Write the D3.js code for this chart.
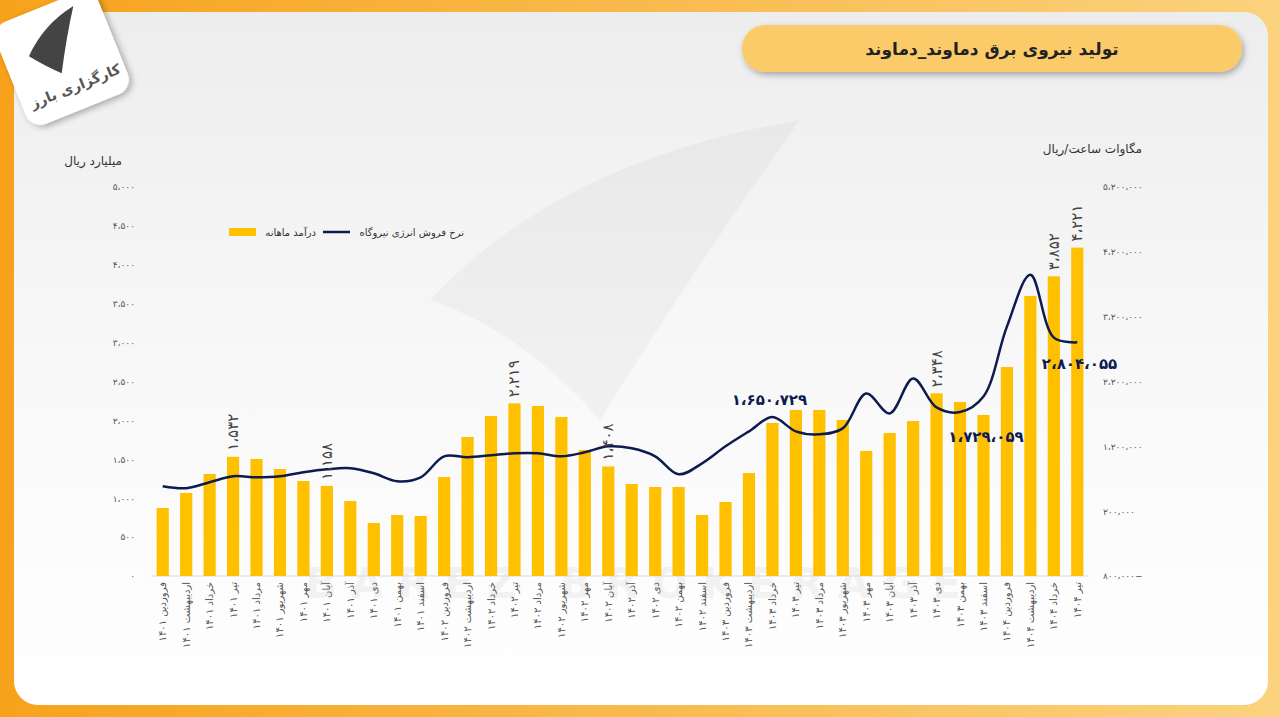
<!DOCTYPE html>
<html><head><meta charset="utf-8">
<script src="https://cdn.jsdelivr.net/npm/d3@7"></script>
<style>html,body{margin:0;padding:0;width:1280px;height:717px;overflow:hidden;font-family:"DejaVu Sans",sans-serif;}</style>
</head><body><svg id="c" width="1280" height="717"></svg>
<script>
const months=["فروردین","اردیبهشت","خرداد","تیر","مرداد","شهریور","مهر","آبان","آذر","دی","بهمن","اسفند"];
const years=["1401","1402","1403","1404"];
const categories=[];
years.forEach(y=>months.forEach(m=>{if(categories.length<40)categories.push(m+" "+y);}));
const revenue=[874,1067,1311,1532,1504,1375,1221,1158,964,681,784,771,1272,1787,2057,2219,2185,2044,1620,1408,1183,1144,1144,784,951,1324,1967,2134,2134,2005,1607,1838,1992,2348,2237,2070,2686,3599,3852,4221];
const rate=[585000,554000,646000,738000,723000,738000,800000,846000,862000,785000,662000,723000,1046000,1031000,1062000,1092000,1092000,1046000,1108000,1200000,1169000,1046000,769000,938000,1200000,1431000,1650729,1431000,1385000,1477000,2015000,1708000,2246000,1800000,1729059,1969000,3046000,3846000,2877000,2804055];
const leftTicks=[0,500,1000,1500,2000,2500,3000,3500,4000,4500,5000];
const rightTicks=[-800000,200000,1200000,2200000,3200000,4200000,5200000];
const barLabelIdx=[3,7,15,19,33,38,39];
const lineLabels=[{i:26,dx:-3,dy:-12,anchor:"middle"},{i:34,dx:26,dy:30,anchor:"middle"},{i:39,dx:40,dy:27,anchor:"end"}];

const fa=s=>String(s).replace(/\d/g,d=>"۰۱۲۳۴۵۶۷۸۹"[d]);
const fmt=v=>{const s=fa(d3.format(",")(Math.abs(v))).replace(/,/g,"،");return v<0?s+"−":s;};

const svg=d3.select("#c");
const defs=svg.append("defs");
const g1=defs.append("linearGradient").attr("id","bg").attr("x1",0).attr("x2",1).attr("y1",0).attr("y2",0);
g1.append("stop").attr("offset",0).attr("stop-color","#F7A21B");
g1.append("stop").attr("offset",1).attr("stop-color","#FBD27E");
const g2=defs.append("linearGradient").attr("id","card").attr("x1",0).attr("x2",0).attr("y1",0).attr("y2",1);
g2.append("stop").attr("offset",0).attr("stop-color","#EDEDED");
g2.append("stop").attr("offset",0.5).attr("stop-color","#F8F8F8");
g2.append("stop").attr("offset",1).attr("stop-color","#FFFFFF");
const sh=defs.append("filter").attr("id","sh").attr("x","-20%").attr("y","-20%").attr("width","140%").attr("height","140%");
sh.append("feDropShadow").attr("dx",2).attr("dy",3).attr("stdDeviation",3).attr("flood-opacity",0.3);

svg.append("rect").attr("width",1280).attr("height",717).attr("fill","url(#bg)");
svg.append("rect").attr("x",14).attr("y",12).attr("width",1254).attr("height",693).attr("rx",24).attr("fill","url(#card)");
svg.append("rect").attr("x",742).attr("y",25).attr("width",500).attr("height",47).attr("rx",23).attr("fill","#FBCB6B").attr("filter","url(#sh)");
svg.append("text").attr("x",992).attr("y",55).attr("text-anchor","middle").attr("font-size",17).attr("font-weight","bold").attr("fill","#222").attr("direction","rtl").text("تولید نیروی برق دماوند_دماوند");
const lg=svg.append("g").attr("transform","translate(62,58) rotate(-22)");
lg.append("rect").attr("x",-55).attr("y",-55).attr("width",110).attr("height",110).attr("rx",16).attr("fill","#fff").attr("filter","url(#sh)");
lg.append("path").attr("d","M-30,-14 Q-5,-38 30,-44 Q12,-18 -6,14 Q-18,2 -30,-14Z").attr("fill","#444");
lg.append("text").attr("x",2).attr("y",36).attr("text-anchor","middle").attr("font-size",14).attr("font-weight","bold").attr("fill","#555").attr("direction","rtl").text("کارگزاری بارز");

// faint watermark shape
svg.append("path").attr("d","M430,300 Q560,160 800,120 Q700,260 600,420 Q520,330 430,300Z").attr("fill","#000").attr("opacity",0.03);
svg.append("text").attr("x",640).attr("y",598).attr("text-anchor","middle").attr("font-size",42).attr("letter-spacing",14).attr("font-weight","bold").attr("fill","#000").attr("opacity",0.04).text("BAREZ BROKERAGE");

const x=d3.scaleBand().domain(categories).range([151,1089]).paddingInner(0.48).paddingOuter(0.24);
const yl=d3.scaleLinear().domain([0,5000]).range([576,187]);
const yr=d3.scaleLinear().domain([-800000,5200000]).range([576,187]);

const la=svg.append("g").attr("transform","translate(138,0)").call(d3.axisLeft(yl).tickValues(leftTicks).tickSize(0).tickFormat(fmt));
la.select(".domain").remove();
la.selectAll("text").attr("font-size",9).attr("fill","#555").attr("font-family","DejaVu Sans");
const ra=svg.append("g").attr("transform","translate(1100,0)").call(d3.axisRight(yr).tickValues(rightTicks).tickSize(0).tickFormat(fmt));
ra.select(".domain").remove();
ra.selectAll("text").attr("font-size",9).attr("fill","#555").attr("font-family","DejaVu Sans");
svg.append("text").attr("x",122).attr("y",165).attr("text-anchor","start").attr("font-size",12).attr("fill","#333").attr("direction","rtl").text("میلیارد ریال");
svg.append("text").attr("x",1142).attr("y",153).attr("text-anchor","start").attr("font-size",12).attr("fill","#333").attr("direction","rtl").text("مگاوات ساعت/ریال");

svg.append("line").attr("x1",151).attr("x2",1089).attr("y1",576).attr("y2",576).attr("stroke","#d9d9d9");
const xa=svg.append("g").attr("transform","translate(0,576)").call(d3.axisBottom(x).tickSize(0).tickFormat(d=>{const p=d.split(" ");return p[0]+" "+fa(p[1]);}));
xa.select(".domain").remove();
xa.selectAll("text").attr("font-size",10).attr("fill","#555").attr("font-family","DejaVu Sans")
  .attr("text-anchor","start").attr("direction","rtl").attr("transform","rotate(-90)").attr("x",-6).attr("y",0).attr("dy","0.35em");

svg.append("rect").attr("x",229).attr("y",228).attr("width",27).attr("height",8).attr("fill","#FFC000");
svg.append("text").attr("x",316).attr("y",236).attr("text-anchor","start").attr("font-size",10).attr("fill","#333").attr("direction","rtl").text("درآمد ماهانه");
svg.append("line").attr("x1",323).attr("x2",350).attr("y1",232).attr("y2",232).attr("stroke","#0D1B4F").attr("stroke-width",2.5);
svg.append("text").attr("x",464).attr("y",236).attr("text-anchor","start").attr("font-size",10).attr("fill","#333").attr("direction","rtl").text("نرخ فروش انرژی نیروگاه");

svg.append("g").selectAll("rect").data(revenue).join("rect")
  .attr("x",(d,i)=>x(categories[i])).attr("width",x.bandwidth())
  .attr("y",d=>yl(d)).attr("height",d=>yl(0)-yl(d)).attr("fill","#FFC000");

const line=d3.line().x((d,i)=>x(categories[i])+x.bandwidth()/2).y(d=>yr(d)).curve(d3.curveCatmullRom.alpha(0.5));
svg.append("path").datum(rate).attr("d",line).attr("fill","none").attr("stroke","#0D1B4F").attr("stroke-width",2.5);

svg.append("g").selectAll("text").data(barLabelIdx).join("text")
  .attr("transform",i=>`translate(${x(categories[i])+x.bandwidth()/2+5},${yl(revenue[i])-6}) rotate(-90)`)
  .attr("font-size",15).attr("fill","#444").attr("text-anchor","start").text(i=>fmt(revenue[i]));

svg.append("g").selectAll("text").data(lineLabels).join("text")
  .attr("x",d=>x(categories[d.i])+x.bandwidth()/2+d.dx).attr("y",d=>yr(rate[d.i])+d.dy)
  .attr("text-anchor",d=>d.anchor).attr("font-size",15).attr("font-weight","bold").attr("fill","#0D1B4F").text(d=>fmt(rate[d.i]));
</script></body></html>
